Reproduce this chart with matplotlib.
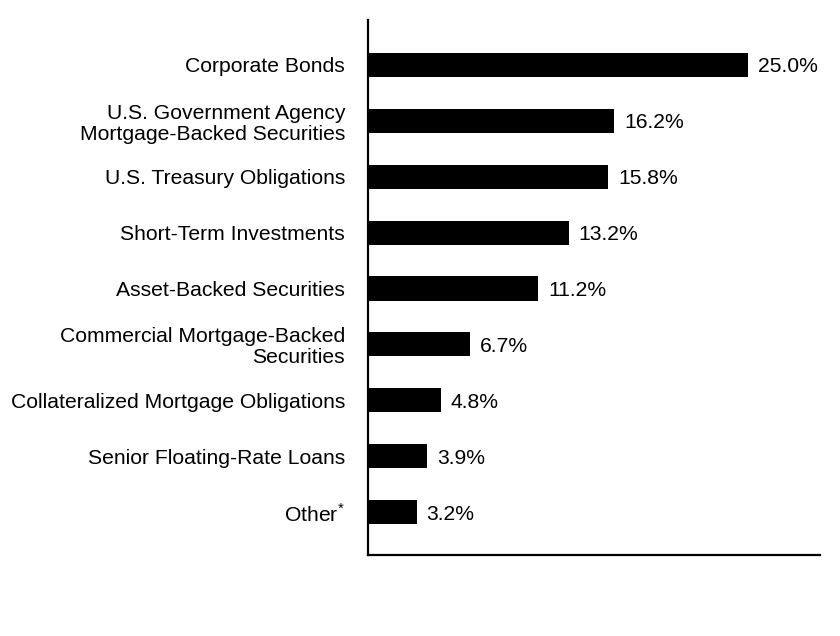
import matplotlib
matplotlib.use("Agg")
import matplotlib.pyplot as plt

categories = [
    "Corporate Bonds",
    "U.S. Government Agency\nMortgage-Backed Securities",
    "U.S. Treasury Obligations",
    "Short-Term Investments",
    "Asset-Backed Securities",
    "Commercial Mortgage-Backed\nSecurities",
    "Collateralized Mortgage Obligations",
    "Senior Floating-Rate Loans",
    "Other$^{*}$",
]
values = [25.0, 16.2, 15.8, 13.2, 11.2, 6.7, 4.8, 3.9, 3.2]
labels = ["25.0%", "16.2%", "15.8%", "13.2%", "11.2%", "6.7%", "4.8%", "3.9%", "3.2%"]

plt.rcParams['font.family'] = ['Liberation Sans', 'DejaVu Sans']
plt.rcParams['mathtext.fontset'] = 'custom'
plt.rcParams['mathtext.rm'] = 'Liberation Sans'

fig = plt.figure(figsize=(8.4, 6.36), dpi=100)
ax = fig.add_axes([368/840, 1-555/636, (820-368)/840, (555-20)/636])

y = list(range(len(values)))
ax.barh(y, values, height=0.43, color="black")
for yi, v, lab in zip(y, values, labels):
    ax.text(v + 0.65, yi, lab, va="center_baseline", ha="left", fontsize=15.2)

ax.set_xlim(0, 29.74)
ax.set_ylim(8 + 43/56, -45/56)
ax.set_yticks(y)
ax.set_yticklabels(categories, fontsize=15.2, linespacing=1.12)
for t in ax.get_yticklabels():
    t.set_verticalalignment("center_baseline")
ax.tick_params(axis="y", length=0, pad=16.5)
ax.set_xticks([])
for s in ["top", "right"]:
    ax.spines[s].set_visible(False)
ax.spines["left"].set_linewidth(1.6)
ax.spines["bottom"].set_linewidth(1.6)

fig.savefig("out.png", dpi=100)
